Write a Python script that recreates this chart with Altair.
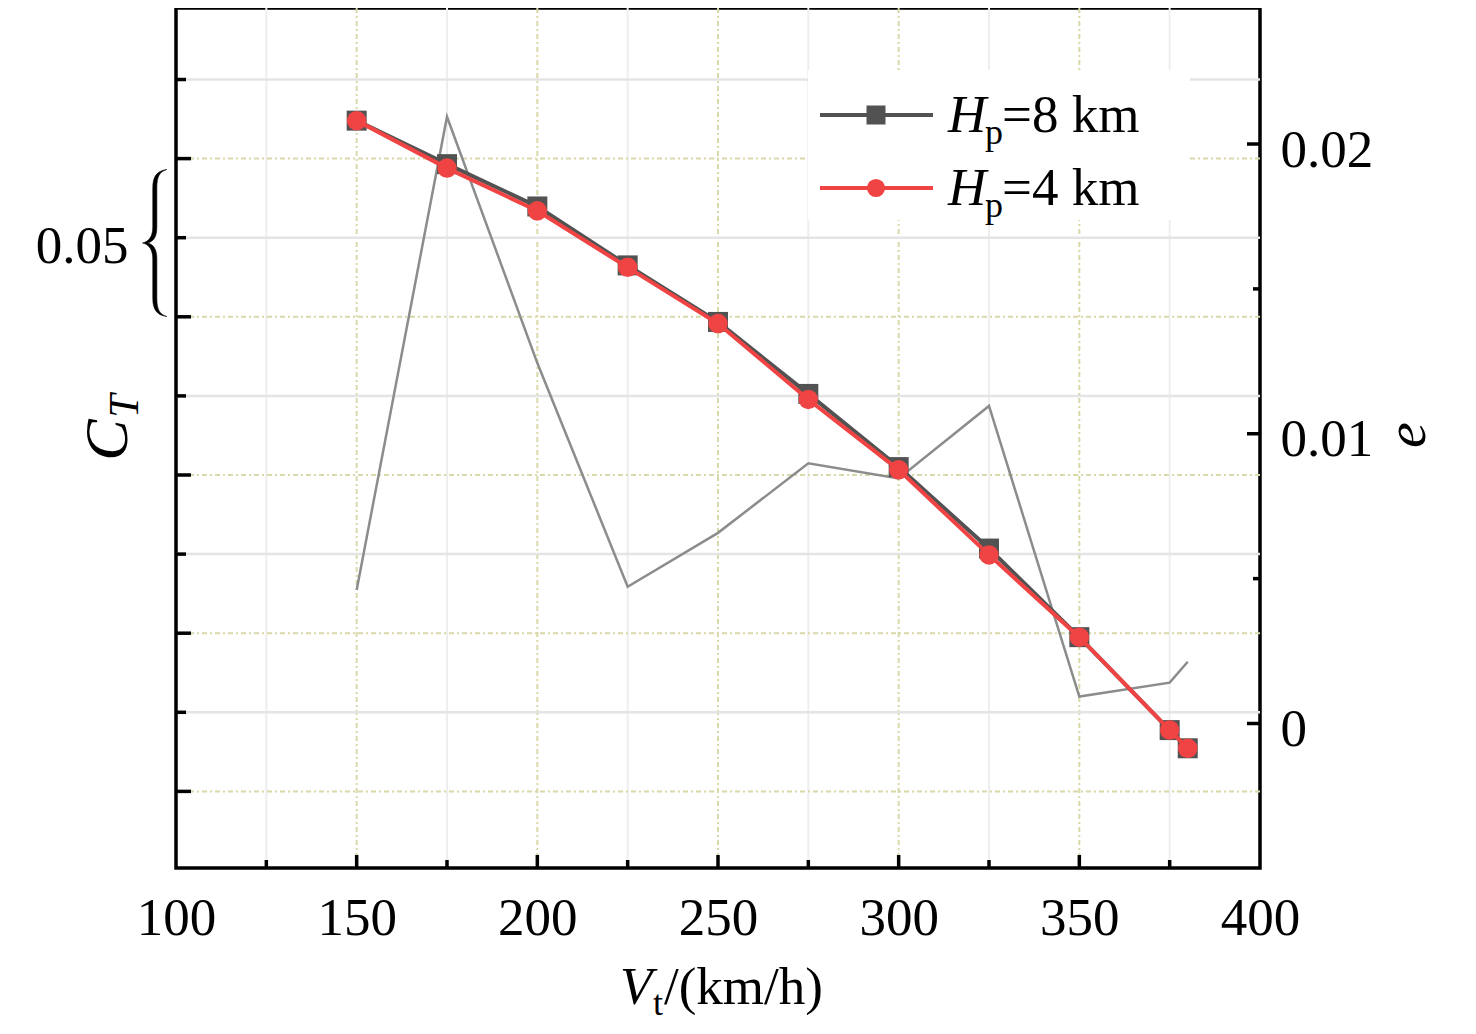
import altair as alt
import pandas as pd

# ---------------- data ----------------
V = [150, 175, 200, 225, 250, 275, 300, 325, 350, 375, 380]
CT_8km = [0.05296, 0.05186, 0.05079, 0.04930, 0.04787, 0.04605, 0.04420, 0.04214, 0.03990, 0.03755, 0.03709]
CT_4km = [0.05296, 0.05176, 0.05068, 0.04925, 0.04783, 0.04591, 0.04413, 0.04198, 0.03990, 0.03755, 0.03709]
E = [0.00461, 0.02094, 0.01244, 0.00472, 0.00658, 0.00898, 0.00846, 0.01096, 0.00093, 0.00141, 0.00213]

x_labels = [100, 150, 200, 250, 300, 350, 400]
x_major = [150, 200, 250, 300, 350]
x_minor = [125, 175, 225, 275, 325, 375]
ct_major = [0.052, 0.048, 0.044, 0.040, 0.036]
ct_minor = [0.054, 0.050, 0.046, 0.042, 0.038]
ct_labels = [0.05]
e_major = [0.0, 0.01, 0.02]
e_minor = [0.005, 0.015]

W, H = 1084, 860
FONT = "Liberation Serif"
FS = 53

xs = alt.Scale(domain=[100, 400], nice=False, zero=False)
cts = alt.Scale(domain=[0.034063, 0.055808], nice=False, zero=False)
es = alt.Scale(domain=[-0.004987, 0.024694], nice=False, zero=False)

x_axis = alt.Axis(values=x_labels, format="d", ticks=False, domain=False, grid=False,
                  labelFont=FONT, labelFontSize=FS, labelColor="black", labelPadding=50,
                  labelBaseline="middle", labelFlush=False, labelOverlap=False, title=None)
left_axis = alt.Axis(values=ct_labels, format=".2f", ticks=False, domain=False, grid=False,
                     labelFont=FONT, labelFontSize=FS, labelColor="black", labelPadding=48,
                     labelOffset=9, labelBaseline="middle", labelFlush=False, title=None)
right_axis = alt.Axis(orient="right", values=e_major, format=".2~f", ticks=False, domain=False,
                      grid=False, labelFont=FONT, labelFontSize=FS, labelColor="black",
                      labelPadding=20, labelOffset=6, labelBaseline="middle", labelFlush=False,
                      labelOverlap=False, title=None)

def df1(vals):
    return pd.DataFrame({"v": vals})

one = pd.DataFrame({"a": [0]})

OLIVE = "#d8d8a8"
LGRAY = "#e4e4e4"
VGRAY = "#eeeeee"
DASH = [5, 3, 2, 3]

# ---------------- left (C_T scale) group: grid + ticks ----------------
Xq = lambda: alt.X("v:Q", scale=xs, axis=x_axis)
Yct = lambda: alt.Y("v:Q", scale=cts, axis=left_axis)

grid_vminor = alt.Chart(df1(x_minor)).mark_rule(color=VGRAY, strokeWidth=2).encode(x=Xq())
grid_vmajor = alt.Chart(df1(x_major)).mark_rule(color=OLIVE, strokeWidth=2, strokeDash=DASH).encode(x=Xq())
grid_hminor = alt.Chart(df1(ct_minor)).mark_rule(color=LGRAY, strokeWidth=2.5).encode(y=Yct())
grid_hmajor = alt.Chart(df1(ct_major)).mark_rule(color=OLIVE, strokeWidth=2, strokeDash=DASH).encode(y=Yct())

tick_lmaj = alt.Chart(df1(ct_major)).mark_rule(color="black", strokeWidth=3.5).encode(
    y=Yct(), x=alt.value(0), x2=alt.value(15))
tick_lmin = alt.Chart(df1(ct_minor)).mark_rule(color="black", strokeWidth=3.5).encode(
    y=Yct(), x=alt.value(0), x2=alt.value(10))
tick_bmaj = alt.Chart(df1(x_major)).mark_rule(color="black", strokeWidth=3.5).encode(
    x=Xq(), y=alt.value(H), y2=alt.value(H - 13))
tick_bmin = alt.Chart(df1(x_minor)).mark_rule(color="black", strokeWidth=3.5).encode(
    x=Xq(), y=alt.value(H), y2=alt.value(H - 8))

# filled curly brace next to the 0.05 label
BRACE = ("M0.16,-1 C0.02,-0.98 -0.03,-0.9 -0.03,-0.75 L-0.03,-0.22 "
         "C-0.03,-0.09 -0.08,-0.02 -0.17,0 C-0.08,0.02 -0.03,0.09 -0.03,0.22 "
         "L-0.03,0.75 C-0.03,0.9 0.02,0.98 0.16,1 "
         "C0.06,0.97 0.025,0.9 0.025,0.75 L0.025,0.22 "
         "C0.025,0.08 -0.02,0.02 -0.1,0 C-0.02,-0.02 0.025,-0.08 0.025,-0.22 "
         "L0.025,-0.75 C0.025,-0.9 0.06,-0.97 0.16,-1 Z")
brace = alt.Chart(one).mark_point(shape=BRACE, size=147 * 147, filled=True, color="black",
                                  strokeWidth=0.6, stroke="black", opacity=1).encode(
    x=alt.value(-21), y=alt.value(235))

def txt(s, x, y, size=FS, italic=False, angle=0, align="left", baseline="alphabetic"):
    kw = dict(text=s, font=FONT, fontSize=size, color="black", align=align, baseline=baseline)
    if italic:
        kw["fontStyle"] = "italic"
    if angle:
        kw["angle"] = angle
    return alt.Chart(one).mark_text(**kw).encode(x=alt.value(x), y=alt.value(y))

# axis titles
t_C = txt("C", -49, 432, size=62, italic=True, angle=270, align="center")
t_T = txt("T", -38, 398, size=42, italic=True, angle=270, align="center")
t_e = txt("e", 1249, 427, size=58, italic=True, angle=270, align="center")
t_V = txt("V", 444, 996, italic=True)
t_t = txt("t", 477, 1007, size=36)
t_rest = txt("/(km/h)", 488, 996)

left = alt.layer(grid_vminor, grid_vmajor, grid_hminor, grid_hmajor,
                 tick_lmaj, tick_lmin, tick_bmaj, tick_bmin,
                 brace, t_C, t_T, t_e, t_V, t_t, t_rest)

# ---------------- right (e scale) group ----------------
Ye = lambda f: alt.Y(f, scale=es, axis=right_axis)
edf = pd.DataFrame({"V": V, "e": E})
e_line = alt.Chart(edf).mark_line(color="#8c8c8c", strokeWidth=2.5).encode(
    x=alt.X("V:Q", scale=xs, axis=x_axis), y=Ye("e:Q"))
tick_rmaj = alt.Chart(df1(e_major)).mark_rule(color="black", strokeWidth=3.5).encode(
    y=Ye("v:Q"), x=alt.value(W), x2=alt.value(W - 13))
tick_rmin = alt.Chart(df1(e_minor)).mark_rule(color="black", strokeWidth=3.5).encode(
    y=Ye("v:Q"), x=alt.value(W), x2=alt.value(W - 7))
right = alt.layer(e_line, tick_rmaj, tick_rmin)

# ---------------- top group: C_T series + legend ----------------
BLACK = "#525252"
RED = "#f04444"
ctdf = pd.DataFrame({"V": V, "c8": CT_8km, "c4": CT_4km})
Xd = alt.X("V:Q", scale=xs, axis=x_axis)
l8 = alt.Chart(ctdf).mark_line(color=BLACK, strokeWidth=4).encode(
    x=Xd, y=alt.Y("c8:Q", scale=cts, axis=None))
p8 = alt.Chart(ctdf).mark_point(shape="square", filled=True, size=400, color=BLACK, opacity=1).encode(
    x=Xd, y=alt.Y("c8:Q", scale=cts, axis=None))
l4 = alt.Chart(ctdf).mark_line(color=RED, strokeWidth=4).encode(
    x=Xd, y=alt.Y("c4:Q", scale=cts, axis=None))
p4 = alt.Chart(ctdf).mark_point(shape="circle", filled=True, size=380, color=RED, opacity=1).encode(
    x=Xd, y=alt.Y("c4:Q", scale=cts, axis=None))

leg_box = alt.Chart(one).mark_rect(color="white").encode(
    x=alt.value(632), x2=alt.value(1014), y=alt.value(62), y2=alt.value(212))
leg_l8 = alt.Chart(one).mark_rule(color=BLACK, strokeWidth=4).encode(
    x=alt.value(644), x2=alt.value(757), y=alt.value(107))
leg_p8 = alt.Chart(one).mark_point(shape="square", filled=True, size=361, color=BLACK, opacity=1).encode(
    x=alt.value(700), y=alt.value(107))
leg_l4 = alt.Chart(one).mark_rule(color=RED, strokeWidth=4).encode(
    x=alt.value(644), x2=alt.value(757), y=alt.value(180))
leg_p4 = alt.Chart(one).mark_point(shape="circle", filled=True, size=330, color=RED, opacity=1).encode(
    x=alt.value(700), y=alt.value(180))

legend_rows = []
for label, base in [("=8 km", 124), ("=4 km", 197)]:
    legend_rows += [txt("H", 772, base, italic=True),
                    txt("p", 809, base + 12, size=36),
                    txt(label, 826, base)]

top = alt.layer(leg_box, leg_l8, leg_p8, leg_l4, leg_p4, *legend_rows, l8, p8, l4, p4)

chart = alt.layer(left, right, top).resolve_scale(y="independent").properties(
    width=W, height=H, autosize="none",
    padding={"left": 168, "top": 0, "right": 200, "bottom": 160},
).configure(background="white").configure_view(stroke="black", strokeWidth=3.5)

chart.save("out.html", embed_options={"renderer": "svg", "actions": False})
